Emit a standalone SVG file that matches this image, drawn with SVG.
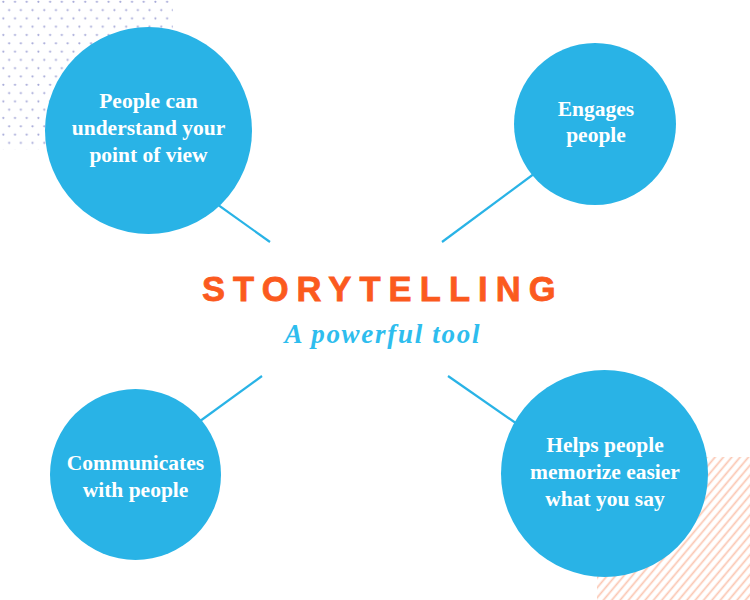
<svg xmlns="http://www.w3.org/2000/svg" width="750" height="600" viewBox="0 0 750 600">
<defs>
<pattern id="dots" x="0" y="0" width="11.7" height="16.6" patternUnits="userSpaceOnUse">
<circle cx="3.3" cy="1.8" r="1.1" fill="#a6a9d8"/>
<circle cx="9.15" cy="10.1" r="1.1" fill="#a6a9d8"/>
</pattern>
<pattern id="hatch" x="0" y="0" width="6.4" height="20" patternUnits="userSpaceOnUse" patternTransform="rotate(40)">
<line x1="3.2" y1="0" x2="3.2" y2="20" stroke="#fbc6b2" stroke-width="1.7"/>
</pattern>
<style>
.node{fill:#29b3e6;}
.lbl{font-family:"Liberation Serif","DejaVu Serif",serif;font-weight:bold;font-size:21.5px;fill:#ffffff;text-anchor:middle;}
.conn{stroke:#29b3e6;stroke-width:2.2;fill:none;}
</style>
</defs>
<rect width="750" height="600" fill="#ffffff"/>
<rect x="0" y="0" width="173" height="150" fill="url(#dots)"/>
<rect x="597" y="457" width="153" height="143" fill="url(#hatch)"/>
<g id="connectors">
<line class="conn" x1="200" y1="192" x2="270" y2="242"/>
<line class="conn" x1="550" y1="162" x2="442" y2="242"/>
<line class="conn" x1="262" y1="376" x2="185" y2="432"/>
<line class="conn" x1="448" y1="376" x2="530" y2="433"/>
</g>
<g id="node-understand">
<circle class="node" cx="148.5" cy="130.5" r="103.5"/>
<text class="lbl" x="148.5" y="108">People can</text>
<text class="lbl" x="148.5" y="135">understand your</text>
<text class="lbl" x="148.5" y="162">point of view</text>
</g>
<g id="node-engages">
<circle class="node" cx="595" cy="124" r="81"/>
<text class="lbl" x="596" y="116">Engages</text>
<text class="lbl" x="596" y="142">people</text>
</g>
<g id="node-communicates">
<circle class="node" cx="135.5" cy="474.5" r="85.5"/>
<text class="lbl" x="135.5" y="470">Communicates</text>
<text class="lbl" x="135.5" y="497">with people</text>
</g>
<g id="node-memorize">
<circle class="node" cx="604.5" cy="473.5" r="103.5"/>
<text class="lbl" x="605" y="452">Helps people</text>
<text class="lbl" x="605" y="479">memorize easier</text>
<text class="lbl" x="605" y="506">what you say</text>
</g>
<g id="title">
<text x="202" y="301" font-family="'Liberation Sans','DejaVu Sans',sans-serif" font-weight="bold" font-size="34.5" letter-spacing="8.1" fill="#fb5a1e" stroke="#fb5a1e" stroke-width="0.8">STORYTELLING</text>
<text x="382" y="343" font-family="'Liberation Serif','DejaVu Serif',serif" font-style="italic" font-weight="bold" font-size="27" fill="#2ebdee" text-anchor="middle" textLength="195" lengthAdjust="spacing">A powerful tool</text>
</g>
</svg>
